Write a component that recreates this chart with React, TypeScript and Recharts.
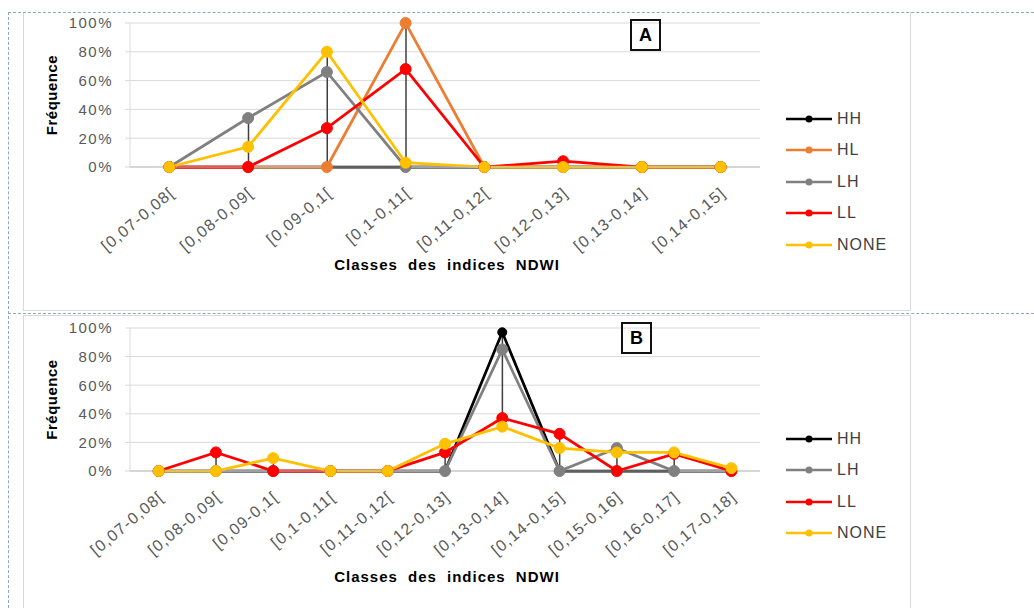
import React from "react";
import { ComposedChart, Line, Bar, XAxis, YAxis, CartesianGrid, Legend, Label } from "recharts";

// NDWI classes and frequency (%) per cluster type
const classesA = ["[0,07-0,08[", "[0,08-0,09[", "[0,09-0,1[", "[0,1-0,11[", "[0,11-0,12[", "[0,12-0,13]", "[0,13-0,14]", "[0,14-0,15]"];
const hhA = [0, 0, 0, 0, 0, 0, 0, 0];
const hlA = [0, 0, 0, 100, 0, 0, 0, 0];
const lhA = [0, 34, 66, 0, 0, 0, 0, 0];
const llA = [0, 0, 27, 68, 0, 4, 0, 0];
const noneA = [0, 14, 80, 3, 0, 0, 0, 0];

const classesB = ["[0,07-0,08[", "[0,08-0,09[", "[0,09-0,1[", "[0,1-0,11[", "[0,11-0,12[", "[0,12-0,13]", "[0,13-0,14]", "[0,14-0,15]", "[0,15-0,16]", "[0,16-0,17]", "[0,17-0,18]"];
const hhB = [0, 0, 0, 0, 0, 0, 97, 0, 0, 0, 0];
const lhB = [0, 0, 0, 0, 0, 0, 85, 0, 16, 0, 0];
const llB = [0, 13, 0, 0, 0, 13, 37, 26, 0, 12, 0];
const noneB = [0, 0, 9, 0, 0, 19, 31, 16, 13, 13, 2];

const yTicks = [0, 20, 40, 60, 80, 100];

const COLORS: Record<string, string> = {
  HH: "#000000",
  HL: "#ED7D31",
  LH: "#808080",
  LL: "#FF0000",
  NONE: "#FFC000",
};

const FONT = "'Liberation Sans', Arial, sans-serif";

type Series = { key: string; values: number[] };

// one row per class, plus the high-low range across all series
function buildRows(classes: string[], series: Series[]) {
  return classes.map((name, i) => {
    const row: Record<string, any> = { name };
    const vals = series.map((s) => s.values[i]);
    series.forEach((s) => (row[s.key] = s.values[i]));
    row.hiLo = [Math.min(...vals), Math.max(...vals)];
    return row;
  });
}

const seriesA: Series[] = [
  { key: "HH", values: hhA },
  { key: "HL", values: hlA },
  { key: "LH", values: lhA },
  { key: "LL", values: llA },
  { key: "NONE", values: noneA },
];
const seriesB: Series[] = [
  { key: "HH", values: hhB },
  { key: "LH", values: lhB },
  { key: "LL", values: llB },
  { key: "NONE", values: noneB },
];

const ClassTick = (props: any) => {
  const { x, y, payload } = props;
  return (
    <g transform={`translate(${x - 1},${y + 17})`}>
      <text
        x={0}
        y={0}
        textAnchor="end"
        dominantBaseline="hanging"
        transform="rotate(-40)"
        fill="#595959"
        fontSize={16}
        letterSpacing={1.2}
        fontFamily={FONT}
      >
        {payload.value}
      </text>
    </g>
  );
};

const renderLegend = (props: any) => {
  const items = (props.payload || []).filter((p: any) => p.dataKey !== "hiLo");
  return (
    <div style={{ fontFamily: FONT }}>
      {items.map((p: any) => (
        <div key={p.value} style={{ display: "flex", alignItems: "center", height: 31.5 }}>
          <svg width={48} height={12} style={{ marginRight: 3 }}>
            <line x1={0} y1={6} x2={46} y2={6} stroke={p.color} strokeWidth={2.5} />
            <circle cx={23} cy={6} r={3.5} fill={p.color} />
          </svg>
          <span style={{ fontSize: 16, color: "#404040", letterSpacing: 1 }}>{p.value}</span>
        </div>
      ))}
    </div>
  );
};

type PanelProps = {
  classes: string[];
  series: Series[];
  height: number;
  marginTop: number;
  plotHeight: number;
  titleDy: number;
  legendTop: number;
};

const FrequencyPanel = ({ classes, series, height, marginTop, plotHeight, titleDy, legendTop }: PanelProps) => {
  const rows = buildRows(classes, series);
  const axisHeight = 113;
  return (
    <ComposedChart
      width={886}
      height={height}
      data={rows}
      margin={{ top: marginTop, right: 149, left: 17, bottom: height - marginTop - plotHeight - axisHeight }}
    >
      <CartesianGrid vertical={false} stroke="#D9D9D9" />
      <XAxis
        dataKey="name"
        interval={0}
        height={axisHeight}
        tick={<ClassTick />}
        tickLine={false}
        tickSize={0}
        axisLine={{ stroke: "#BFBFBF" }}
      >
        <Label
          content={(p: any) => {
            const vb = p.viewBox;
            return (
              <text
                x={vb.x + vb.width / 2 + 2}
                y={vb.y + titleDy}
                textAnchor="middle"
                fontFamily={FONT}
                fontWeight="bold"
                fontSize={15}
                letterSpacing={1}
                wordSpacing={5}
                fill="#000"
              >
                Classes des indices NDWI
              </text>
            );
          }}
        />
      </XAxis>
      <YAxis
        domain={[0, 100]}
        ticks={yTicks}
        width={90}
        tickFormatter={(v: number) => `${v}%`}
        tick={{ fill: "#595959", fontSize: 15, fontFamily: FONT, letterSpacing: 1.5 }}
        tickSize={5}
        tickMargin={12}
        tickLine={{ stroke: "#D9D9D9" }}
        axisLine={{ stroke: "#D9D9D9" }}
      >
        <Label
          content={(p: any) => {
            const vb = p.viewBox;
            const cx = vb.x + 11;
            const cy = vb.y + vb.height / 2;
            return (
              <text
                x={cx}
                y={cy}
                textAnchor="middle"
                dominantBaseline="central"
                transform={`rotate(-90, ${cx}, ${cy})`}
                fontFamily={FONT}
                fontWeight="bold"
                fontSize={15}
                letterSpacing={0.5}
                fill="#000"
              >
                Fréquence
              </text>
            );
          }}
        />
      </YAxis>
      <Bar dataKey="hiLo" barSize={1.5} fill="#3F3F3F" legendType="none" isAnimationActive={false} />
      {series.map((s) => (
        <Line
          key={s.key}
          dataKey={s.key}
          name={s.key}
          stroke={COLORS[s.key]}
          strokeWidth={2.75}
          dot={{ r: s.key === "HH" ? 4.5 : 5.5, fill: COLORS[s.key], stroke: COLORS[s.key], strokeWidth: 1 }}
          activeDot={false}
          isAnimationActive={false}
        />
      ))}
      <Legend
        layout="vertical"
        align="center"
        verticalAlign="middle"
        content={renderLegend}
        wrapperStyle={{ left: 763, top: legendTop, width: 120 }}
      />
    </ComposedChart>
  );
};

const LetterBox = ({ letter, left, top }: { letter: string; left: number; top: number }) => (
  <div
    style={{
      position: "absolute",
      left,
      top,
      width: 27,
      height: 28,
      border: "2px solid #111",
      fontFamily: FONT,
      fontWeight: "bold",
      fontSize: 18,
      lineHeight: "28px",
      textAlign: "center",
    }}
  >
    {letter}
  </div>
);

export default function App() {
  const dash = "1px dashed #8FA8C2";
  return (
    <div
      style={{
        position: "absolute",
        left: 0,
        top: 0,
        width: 1034,
        height: 608,
        overflow: "hidden",
        background: "#fff",
        fontFamily: FONT,
      }}
    >
      {/* panel frames */}
      <div style={{ position: "absolute", left: 23, top: 12, width: 886, height: 298, borderLeft: "1px solid #D9D9D9", borderRight: "1px solid #D9D9D9", borderBottom: "1px solid #D9D9D9" }} />
      <div style={{ position: "absolute", left: 23, top: 315, width: 886, height: 300, border: "1px solid #D9D9D9" }} />
      {/* dashed layout guides */}
      <div style={{ position: "absolute", left: 8, top: 12, width: 1026, height: 0, borderTop: dash }} />
      <div style={{ position: "absolute", left: 8, top: 313, width: 1026, height: 0, borderTop: dash }} />
      <div style={{ position: "absolute", left: 8, top: 12, width: 0, height: 596, borderLeft: dash }} />

      <div style={{ position: "absolute", left: 23, top: 12 }}>
        <FrequencyPanel classes={classesA} series={seriesA} height={298} marginTop={11} plotHeight={144} titleDy={103} legendTop={91} />
      </div>
      <div style={{ position: "absolute", left: 23, top: 315 }}>
        <FrequencyPanel classes={classesB} series={seriesB} height={293} marginTop={13} plotHeight={143} titleDy={111} legendTop={108} />
      </div>

      <LetterBox letter="A" left={630} top={19} />
      <LetterBox letter="B" left={621} top={322} />
    </div>
  );
}
